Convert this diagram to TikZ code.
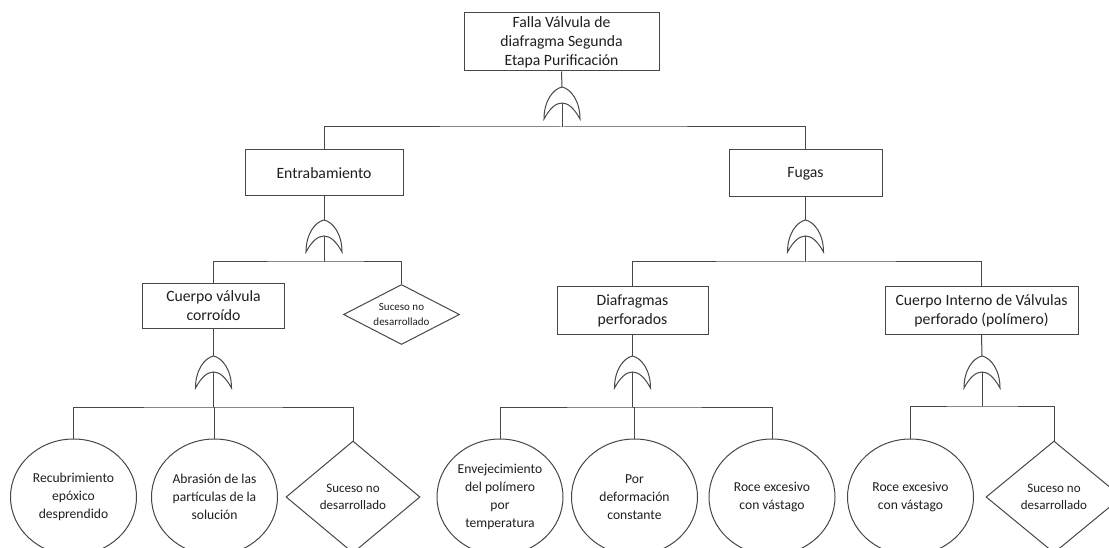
\documentclass[tikz,border=0pt]{standalone}
\usepackage{fontspec}
\setmainfont{Carlito}
\usetikzlibrary{shapes.geometric,calc}
\colorlet{ln}{black!72}
\colorlet{txt}{black!88}
\begin{document}
\begin{tikzpicture}[x=1pt,y=-1pt,
  wire/.style={draw=ln, line width=1pt},
  evbox/.style={draw=ln, line width=1pt, fill=white, rectangle, inner sep=0pt,
    align=center, text=txt, font=\fontsize{15.7}{19}\selectfont},
  basic/.style={draw=ln, line width=1pt, ellipse, inner sep=0pt,
    minimum width=126pt, minimum height=116pt},
  undev/.style={draw=ln, line width=1pt, diamond, inner sep=0pt},
  lbl/.style={align=center, text=txt, inner sep=0pt, font=\fontsize{13.6}{18}\selectfont},
  lblsmall/.style={align=center, text=txt, inner sep=0pt, font=\fontsize{11}{15.5}\selectfont},
  lblmid/.style={align=center, text=txt, inner sep=0pt, font=\fontsize{13}{17}\selectfont},
  orgate/.pic={
    \draw[ln, line width=1pt, fill=white]
      (-18,0) .. controls (-18,-18) and (-9,-30) .. (0,-32)
      .. controls (9,-30) and (18,-18) .. (18,0)
      .. controls (12,-11) and (6,-16) .. (0,-16)
      .. controls (-6,-16) and (-12,-11) .. (-18,0) -- cycle;
  }]
\clip (0,0) rectangle (1109,548);
\fill[white] (0,0) rectangle (1109,548);

% intermediate and top events
\node[evbox, minimum width=195pt, minimum height=58pt] (top) at (561.5,42)
  {Falla Válvula de\\diafragma Segunda\\Etapa Purificación};
\node[evbox, minimum width=158pt, minimum height=46pt] (entr) at (324,173) {Entrabamiento};
\node[evbox, minimum width=153pt, minimum height=47pt] (fugas) at (805.5,173.5) {Fugas};
\node[evbox, minimum width=142pt, minimum height=44pt] (cuerpo) at (213.5,306)
  {Cuerpo válvula\\corroído};
\node[undev, minimum width=116pt, minimum height=60pt,
  label={[lblsmall]center:{Suceso no\\desarrollado}}] (sd1) at (401.5,314.5) {};
\node[evbox, minimum width=151pt, minimum height=47pt] (diaf) at (632.5,310.5)
  {Diafragmas\\perforados};
\node[evbox, minimum width=193pt, minimum height=47pt] (cint) at (981.5,310.5)
  {Cuerpo Interno de Válvulas\\perforado (polímero)};

% basic and undeveloped events
\node[basic, label={[lbl]center:{Recubrimiento\\epóxico\\desprendido}}] (e1) at (73.5,497) {};
\node[basic, label={[lbl]center:{Abrasión de las\\partículas de la\\solución}}] (e2) at (214.5,497) {};
\node[undev, minimum width=134pt, minimum height=112pt,
  label={[lblmid]center:{Suceso no\\desarrollado}}] (d3) at (353,497) {};
\node[basic, label={[lbl]center:{Envejecimiento\\del polímero\\por\\temperatura}}] (e4) at (500,497) {};
\node[basic, label={[lbl]center:{Por\\deformación\\constante}}] (e5) at (634.5,497) {};
\node[basic, label={[lbl]center:{Roce excesivo\\con vástago}}] (e6) at (772,497) {};
\node[basic, label={[lbl]center:{Roce excesivo\\con vástago}}] (e7) at (910.5,497) {};
\node[undev, minimum width=136pt, minimum height=112pt,
  label={[lblmid]center:{Suceso no\\desarrollado}}] (d8) at (1054,497) {};

% gate positions (bottom centre) and branch bars
\coordinate (g0) at (562,119);   \coordinate (b0) at (562,127);
\coordinate (g1) at (324,252);   \coordinate (b1) at (324,262);
\coordinate (g2) at (805.5,252); \coordinate (b2) at (805.5,262);
\coordinate (g3) at (213.5,388); \coordinate (b3) at (213.5,407);
\coordinate (g4) at (632.5,388); \coordinate (b4) at (632.5,407);
\coordinate (g5) at (982,388);   \coordinate (b5) at (982,406);

% connectors
\draw[wire] (top.south) -- ($(g0)+(0,-32)$);
\draw[wire] ($(g0)+(0,-16)$) -- (b0);
\draw[wire] (entr.north) |- (b0) -| (fugas.north);

\draw[wire] (entr.south) -- ($(g1)+(0,-32)$);
\draw[wire] ($(g1)+(0,-16)$) -- (b1);
\draw[wire] (cuerpo.north) |- (b1) -| (sd1.north);

\draw[wire] (fugas.south) -- ($(g2)+(0,-32)$);
\draw[wire] ($(g2)+(0,-16)$) -- (b2);
\draw[wire] (diaf.north) |- (b2) -| (cint.north);

\draw[wire] (cuerpo.south) -- ($(g3)+(0,-32)$);
\draw[wire] ($(g3)+(0,-16)$) -- (b3);
\draw[wire] (e1.north) |- (b3) -| (d3.north);
\draw[wire] (b3) -| (e2.north);

\draw[wire] (diaf.south) -- ($(g4)+(0,-32)$);
\draw[wire] ($(g4)+(0,-16)$) -- (b4);
\draw[wire] (e4.north) |- (b4) -| (e6.north);
\draw[wire] (b4) -| (e5.north);

\draw[wire] (cint.south) -- ($(g5)+(0,-32)$);
\draw[wire] ($(g5)+(0,-16)$) -- (b5);
\draw[wire] (e7.north) |- (b5) -| (d8.north);

% OR gates
\pic at (g0) {orgate};
\pic at (g1) {orgate};
\pic at (g2) {orgate};
\pic at (g3) {orgate};
\pic at (g4) {orgate};
\pic at (g5) {orgate};
\end{tikzpicture}
\end{document}
